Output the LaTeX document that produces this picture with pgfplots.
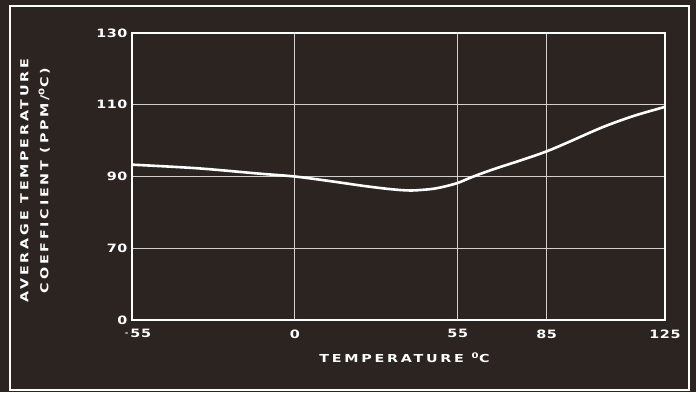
\documentclass[border=0pt]{standalone}
\usepackage{pgfplots}
\pgfplotsset{compat=1.18}
\usepackage{fontspec}
\setmainfont{DejaVu Sans}
\newfontfamily\chartfont[FakeStretch=1.3,LetterSpace=25]{DejaVu Sans Bold}
\newfontfamily\numfont[FakeStretch=1.25,LetterSpace=5]{DejaVu Sans Bold}

\definecolor{bg}{RGB}{44,36,33}
\definecolor{gridc}{RGB}{212,208,205}

\begin{document}
\begin{tikzpicture}
  % background and outer frame
  \fill[bg] (0pt,0pt) rectangle (696pt,392pt);
  \draw[white, line width=1.6pt] (10pt,2pt) rectangle (689pt,386pt);

  \begin{axis}[
    at={(132pt,72pt)}, anchor=south west,
    scale only axis, width=533pt, height=287pt,
    xmin=-55, xmax=125, ymin=50, ymax=130,
    xtick={-55,0,55,85,125},
    xticklabels={\hspace{12pt}{\raisebox{2pt}{\fontsize{7}{8}\selectfont-}}\,55,0,55,85,125},
    ytick={50,70,90,110,130}, yticklabels={0,70,90,110,130},
    grid=major,
    major grid style={gridc, line width=1.2pt},
    axis line style={white, line width=1.8pt},
    tick style={draw=none},
    ticklabel style={font=\numfont\fontsize{11.5}{12}\selectfont, text=white},
    xticklabel style={yshift=-6pt},
    yticklabel style={xshift=-1pt},
    xlabel={TEMPERATURE \textsuperscript{0}C},
    xlabel style={at={(axis description cs:0.5,0)}, anchor=center,
      yshift=-38pt, xshift=6pt, text=white,
      font=\chartfont\fontsize{11}{12}\selectfont},
    ylabel={AVERAGE TEMPERATURE\\COEFFICIENT (PPM/\textsuperscript{0}C)},
    ylabel style={at={(axis description cs:0,0.5)}, anchor=center,
      yshift=97pt, xshift=-4pt, align=center, text=white,
      font=\chartfont\fontsize{11}{20}\selectfont},
  ]
    \addplot[white, line width=2.6pt, smooth, tension=0.5] coordinates {
      (-55,93.3) (-33,92.3) (-12,90.8) (0,90.0) (12,88.7) (23,87.4)
      (32,86.5) (39,86.1) (46,86.5) (50,87.1) (55,88.2) (60,89.9)
      (67,92.0) (85,97.0) (103.5,103.6) (114.5,106.9) (125,109.4)
    };
  \end{axis}

  \pgfresetboundingbox
  \useasboundingbox (0pt,0pt) rectangle (696pt,392pt);
\end{tikzpicture}
\end{document}
